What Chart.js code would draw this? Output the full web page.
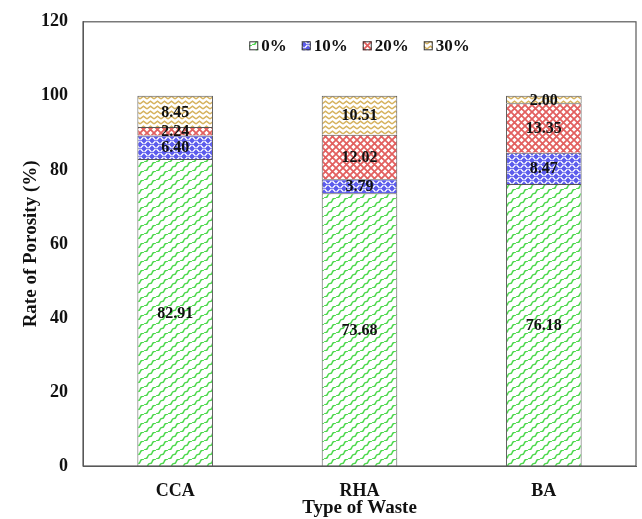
<!DOCTYPE html>
<html>
<head>
<meta charset="utf-8">
<script src="https://cdn.jsdelivr.net/npm/chart.js@4.4.1/dist/chart.umd.min.js"></script>
<style>
  html, body { margin: 0; padding: 0; background: #fff; }
  #wrap { width: 642px; height: 519px; position: relative; }
</style>
</head>
<body>
<div id="wrap"><canvas id="c" width="642" height="519"></canvas></div>
<script>
// Waste types on the x axis
const categories = ['CCA', 'RHA', 'BA'];
// Replacement levels (legend)
const seriesLabels = ['0%', '10%', '20%', '30%'];
// Porosity share (%) per replacement level
const values0  = [82.91, 73.68, 76.18];
const values10 = [6.40, 3.79, 8.47];
const values20 = [2.24, 12.02, 13.35];
const values30 = [8.45, 10.51, 2.00];
const yTicks = [0, 20, 40, 60, 80, 100, 120];

const SERIF = '"Liberation Serif", "Times New Roman", serif';

function tile(w, h, draw) {
  const cv = document.createElement('canvas');
  cv.width = w; cv.height = h;
  const g = cv.getContext('2d');
  g.fillStyle = '#fff';
  g.fillRect(0, 0, w, h);
  draw(g, w, h);
  return document.createElement('canvas').getContext('2d').createPattern(cv, 'repeat');
}

// Green wavy scales
const patGreen = tile(12, 9, (g) => {
  g.strokeStyle = '#4cd84c';
  g.lineWidth = 1.5;
  for (let dx = -12; dx <= 12; dx += 12) {
    g.beginPath();
    g.moveTo(dx + 0, 9);
    g.bezierCurveTo(dx + 6, 9, dx + 2, 4.5, dx + 6, 4.5);
    g.bezierCurveTo(dx + 10, 4.5, dx + 6, 0, dx + 12, 0);
    g.stroke();
  }
});

// Blue weave
const patBlue = tile(8, 8, (g) => {
  g.fillStyle = '#5c5cec';
  g.fillRect(0, 0, 8, 8);
  g.strokeStyle = '#ffffff';
  g.lineWidth = 1.3;
  g.beginPath();
  g.moveTo(0.5, 1); g.lineTo(3.5, 4);
  g.moveTo(4.5, 4); g.lineTo(7.5, 1);
  g.moveTo(4.5, 5); g.lineTo(7.5, 8);
  g.moveTo(0.5, 8); g.lineTo(3.5, 5);
  g.stroke();
});

// Red lattice
const patRed = tile(7, 7, (g) => {
  g.strokeStyle = '#e2605f';
  g.lineWidth = 1.8;
  g.beginPath();
  g.moveTo(-1, -1); g.lineTo(8, 8);
  g.moveTo(8, -1); g.lineTo(-1, 8);
  g.stroke();
});

// Tan zigzag
const patTan = tile(7, 5, (g) => {
  g.strokeStyle = '#d6b25e';
  g.lineWidth = 1.5;
  g.beginPath();
  g.moveTo(0, 4); g.lineTo(3.5, 1.2); g.lineTo(7, 4);
  g.stroke();
});

const patterns = [patGreen, patBlue, patRed, patTan];
const seriesValues = [values0, values10, values20, values30];

// Frame around the plot area
const framePlugin = {
  id: 'frame',
  afterDraw(chart) {
    const { ctx, chartArea: a } = chart;
    ctx.save();
    ctx.strokeStyle = '#595959';
    ctx.lineWidth = 1.2;
    ctx.strokeRect(a.left, a.top, a.right - a.left, a.bottom - a.top);
    ctx.restore();
  }
};

// Value labels centred in each segment
const valueLabels = {
  id: 'valueLabels',
  afterDatasetsDraw(chart) {
    const { ctx } = chart;
    ctx.save();
    ctx.font = 'bold 16px ' + SERIF;
    ctx.fillStyle = '#111';
    ctx.textAlign = 'center';
    ctx.textBaseline = 'middle';
    chart.data.datasets.forEach((ds, i) => {
      const meta = chart.getDatasetMeta(i);
      meta.data.forEach((bar, j) => {
        const y = (bar.y + bar.base) / 2;
        ctx.fillText(ds.data[j].toFixed(2), bar.x, y + 1);
      });
    });
    ctx.restore();
  }
};

// Horizontal legend inside the top of the plot area
const insideLegend = {
  id: 'insideLegend',
  afterDraw(chart) {
    const { ctx, chartArea: a } = chart;
    const box = 9, gapText = 3, gapItem = 15, yc = a.top + 24;
    ctx.save();
    ctx.font = 'bold 17px ' + SERIF;
    ctx.textBaseline = 'middle';
    const items = chart.data.datasets.map(ds => ({
      label: ds.label, fill: ds.backgroundColor,
      w: box + gapText + ctx.measureText(ds.label).width
    }));
    const total = items.reduce((s, it) => s + it.w, 0) + gapItem * (items.length - 1);
    let x = (a.left + a.right) / 2 - total / 2;
    items.forEach(it => {
      ctx.fillStyle = it.fill;
      ctx.fillRect(x, yc - box / 2, box, box);
      ctx.strokeStyle = '#333';
      ctx.lineWidth = 1;
      ctx.strokeRect(x + 0.5, yc - box / 2 + 0.5, box - 1, box - 1);
      ctx.fillStyle = '#111';
      ctx.fillText(it.label, x + box + gapText, yc + 1);
      x += it.w + gapItem;
    });
    ctx.restore();
  }
};

new Chart(document.getElementById('c'), {
  type: 'bar',
  data: {
    labels: categories,
    datasets: seriesLabels.map((lab, i) => ({
      label: lab,
      data: seriesValues[i],
      backgroundColor: patterns[i],
      borderColor: '#555',
      borderWidth: 1,
      barPercentage: 0.41,
      categoryPercentage: 1
    }))
  },
  options: {
    responsive: false,
    animation: false,
    layout: { padding: { top: 20, right: 6, left: 0, bottom: 0 } },
    plugins: {
      tooltip: { enabled: false },
      legend: { display: false }
    },
    scales: {
      x: {
        stacked: true,
        grid: { display: false, drawTicks: false },
        border: { color: '#595959' },
        ticks: { color: '#111', padding: 15, font: { family: SERIF, size: 18, weight: 'bold' } },
        title: { display: true, text: 'Type of Waste', color: '#111', padding: { top: 0, bottom: 0 },
                 font: { family: SERIF, size: 19, weight: 'bold' } },
        afterFit(s) { s.height = 53; }
      },
      y: {
        stacked: true,
        min: 0, max: 120,
        afterBuildTicks(s) { s.ticks = yTicks.map(v => ({ value: v })); },
        grid: { display: false, drawTicks: true, tickLength: 4, tickColor: '#595959' },
        border: { color: '#595959' },
        ticks: { color: '#111', padding: 11, font: { family: SERIF, size: 18, weight: 'bold' } },
        title: { display: true, text: 'Rate of Porosity (%)', color: '#111', padding: { top: 20, bottom: 0 },
                 font: { family: SERIF, size: 19, weight: 'bold' } },
        afterFit(s) { s.width = 83; }
      }
    }
  },
  plugins: [framePlugin, valueLabels, insideLegend]
});
</script>
</body>
</html>
